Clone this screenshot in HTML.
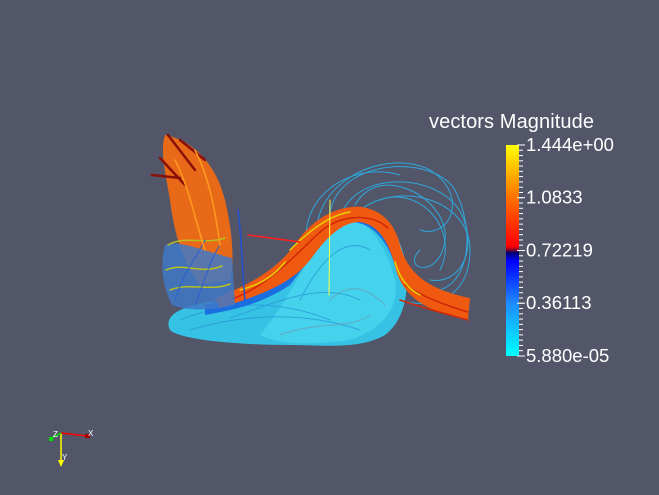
<!DOCTYPE html>
<html><head><meta charset="utf-8">
<style>
html,body{margin:0;padding:0;background:#535669;}
svg{display:block;font-family:"Liberation Sans","DejaVu Sans",sans-serif;}
</style></head>
<body>
<svg id="chart" width="659" height="495" viewBox="0 0 659 495" xmlns="http://www.w3.org/2000/svg">
<defs>
<linearGradient id="cmap" x1="0" y1="1" x2="0" y2="0">
<stop offset="0" stop-color="#00ffff"/>
<stop offset="0.25" stop-color="#1e8cff"/>
<stop offset="0.45" stop-color="#0000ff"/>
<stop offset="0.49" stop-color="#000070"/>
<stop offset="0.5" stop-color="#700030"/>
<stop offset="0.52" stop-color="#ff0000"/>
<stop offset="0.75" stop-color="#ff7000"/>
<stop offset="1" stop-color="#ffff00"/>
</linearGradient>
</defs>
<rect width="659" height="495" fill="#535669"/>

<g fill="none" stroke-linecap="round">
  <g stroke="#2ab0e8" stroke-width="1" opacity="0.9">
    <path d="M330,230 C320,160 430,150 455,190 C475,230 470,280 440,290"/>
    <path d="M340,220 C350,170 440,170 462,215 C478,250 460,285 430,280"/>
    <path d="M355,205 C380,160 450,200 445,240 C440,280 400,270 420,250"/>
    <path d="M320,250 C300,190 380,145 430,170 C470,195 450,240 420,230"/>
    <path d="M360,210 C400,180 470,200 470,250 C470,300 430,310 400,300"/>
    <path d="M310,260 C290,200 350,160 400,175"/>
    <path d="M380,200 C420,185 460,230 440,270"/>
  </g>
  <path d="M170,330 C160,310 200,300 240,300 C290,290 305,235 335,212 C365,198 395,215 405,260 C410,290 405,320 385,335 C360,350 320,345 290,345 C240,345 180,340 170,330 Z" fill="#36c2e4" stroke="none"/>
  <path d="M260,335 C290,300 315,240 340,220 C362,212 385,240 395,280 C400,310 380,330 350,340 C310,345 280,345 260,335 Z" fill="#44d2ec" stroke="none"/>
  <g stroke="#2a9ad8" stroke-width="1" opacity="0.8">
    <path d="M180,320 C230,300 280,300 330,320"/>
    <path d="M190,330 C240,315 300,310 360,330"/>
    <path d="M230,318 C270,305 320,280 360,300"/>
    <path d="M300,300 C320,260 345,235 370,250"/>
  </g>
  <g stroke="#7890a8" stroke-width="1" opacity="0.6">
    <path d="M280,335 C320,320 350,330 370,315"/>
    <path d="M330,300 C350,280 370,290 385,305"/>
  </g>
  <path d="M205,305 C240,295 280,285 305,240 C325,212 352,202 372,212 C392,222 400,250 405,270 L398,275 C390,245 375,222 350,222 C330,225 310,260 290,285 C260,305 232,310 205,315 Z" fill="#1a6ee0" stroke="none"/>
  <path d="M215,298 C250,285 280,268 298,240 C315,218 338,205 362,207 C384,211 395,225 400,245 C408,275 430,290 470,298 L468,320 C430,312 405,300 396,270 C390,245 380,225 360,222 C340,222 325,240 310,260 C290,285 260,295 220,308 Z" fill="#f05a10" stroke="none"/>
  <g stroke="#d02808" stroke-width="1.5">
    <path d="M230,300 C270,285 295,255 320,232 C340,215 370,212 388,228"/>
    <path d="M405,285 C425,298 445,305 468,312"/>
    <path d="M400,300 C430,310 450,315 468,320"/>
  </g>
  <g stroke="#e8d000" stroke-width="1.5">
    <path d="M290,250 C310,230 330,215 350,212"/>
    <path d="M395,262 C400,280 410,290 420,295"/>
    <path d="M240,290 C260,285 275,275 285,262"/>
  </g>
  <line x1="248" y1="235" x2="300" y2="242" stroke="#ff2020" stroke-width="1.5"/>
  <line x1="330" y1="200" x2="329" y2="295" stroke="#ffff40" stroke-width="1"/>
  <path d="M165,135 C190,140 215,160 225,200 C232,230 235,260 230,280 L200,285 C185,265 175,240 170,200 C165,170 160,150 165,135 Z" fill="#e86a18" stroke="none"/>
  <path d="M165,245 C180,240 200,250 232,258 L235,305 C215,310 190,312 172,305 C162,285 160,265 165,245 Z" fill="#4078c8" stroke="none" opacity="0.85"/>
  <g stroke="#b8c020" stroke-width="1.5">
    <path d="M168,245 C185,235 205,245 225,238"/>
    <path d="M166,270 C185,262 200,275 222,266"/>
    <path d="M170,290 C190,282 210,292 230,284"/>
  </g>
  <g stroke="#2a60d0" stroke-width="1">
    <path d="M175,300 C185,270 195,260 205,240"/>
    <path d="M195,305 C205,280 210,260 220,245"/>
  </g>
  <g stroke="#8a1008" stroke-width="2.5">
    <path d="M195,170 L168,135"/>
    <path d="M185,185 L160,158"/>
    <path d="M180,178 L152,175"/>
    <path d="M205,160 L180,140"/>
  </g>
  <g stroke="#ff9a20" stroke-width="1.5">
    <path d="M175,160 C190,190 195,220 205,250"/>
    <path d="M195,150 C210,180 215,210 220,245"/>
  </g>
  <path d="M238,210 C242,240 242,270 245,300" stroke="#2050d0" stroke-width="1.5"/>
</g>

<g id="colorbar">
  <text x="429" y="128" fill="#ffffff" font-size="20" textLength="165">vectors Magnitude</text>
  <rect x="506" y="145" width="13" height="211" fill="url(#cmap)"/>
  <g id="ticks" stroke="#ffffff" stroke-width="1"></g>
  <g id="labels" fill="#ffffff" font-size="18.5"></g>
</g>

<g>
  <line x1="61" y1="433" x2="61" y2="461" stroke="#ffff00" stroke-width="1.5"/>
  <polygon points="58,460 64,460 61,467" fill="#ffff00"/>
  <line x1="61" y1="433" x2="87" y2="436" stroke="#ff0000" stroke-width="1.5"/>
  <rect x="85" y="434" width="5" height="4" fill="#a00000"/>
  <line x1="61" y1="433" x2="52" y2="438" stroke="#00dd00" stroke-width="1.5"/>
  <rect x="49" y="437" width="4" height="4" fill="#00dd00"/>
  <text x="88" y="436" fill="#ffffff" font-size="8">X</text>
  <text x="62" y="460" fill="#ffffff" font-size="8">Y</text>
  <text x="53" y="437" fill="#ffffff" font-size="8">Z</text>
</g>

<script>
const tickValues = [1.444, 1.0833, 0.72219, 0.36113, 0.0000588];
const tickLabels = ["1.444e+00", "1.0833", "0.72219", "0.36113", "5.880e-05"];
const minorCount = [40];
const vmin = 0.0000588, vmax = 1.444;
const y0 = 356, y1 = 145;
function yScale(v){ return y0 - (v - vmin) / (vmax - vmin) * (y0 - y1); }
const tg = document.getElementById('ticks');
const lg = document.getElementById('labels');
const ns = 'http://www.w3.org/2000/svg';
for (let i = 0; i <= minorCount[0]; i++) {
  const v = vmin + (vmax - vmin) * i / minorCount[0];
  const l = document.createElementNS(ns, 'line');
  
  
  const y = yScale(v);
  l.setAttribute('x1', 519); l.setAttribute('x2', 523);
  l.setAttribute('y1', y); l.setAttribute('y2', y);
  tg.appendChild(l);
}
tickValues.forEach((v, i) => {
  const y = yScale(v);
  const l = document.createElementNS(ns, 'line');
  
  
  l.setAttribute('x1', 517); l.setAttribute('x2', 525);
  l.setAttribute('y1', y); l.setAttribute('y2', y);
  tg.appendChild(l);
  const t = document.createElementNS(ns, 'text');
  
  
  t.setAttribute('x', 526);
  t.setAttribute('y', y + 6);
  t.textContent = tickLabels[i];
  lg.appendChild(t);
});
</script>
</svg>
</body></html>
